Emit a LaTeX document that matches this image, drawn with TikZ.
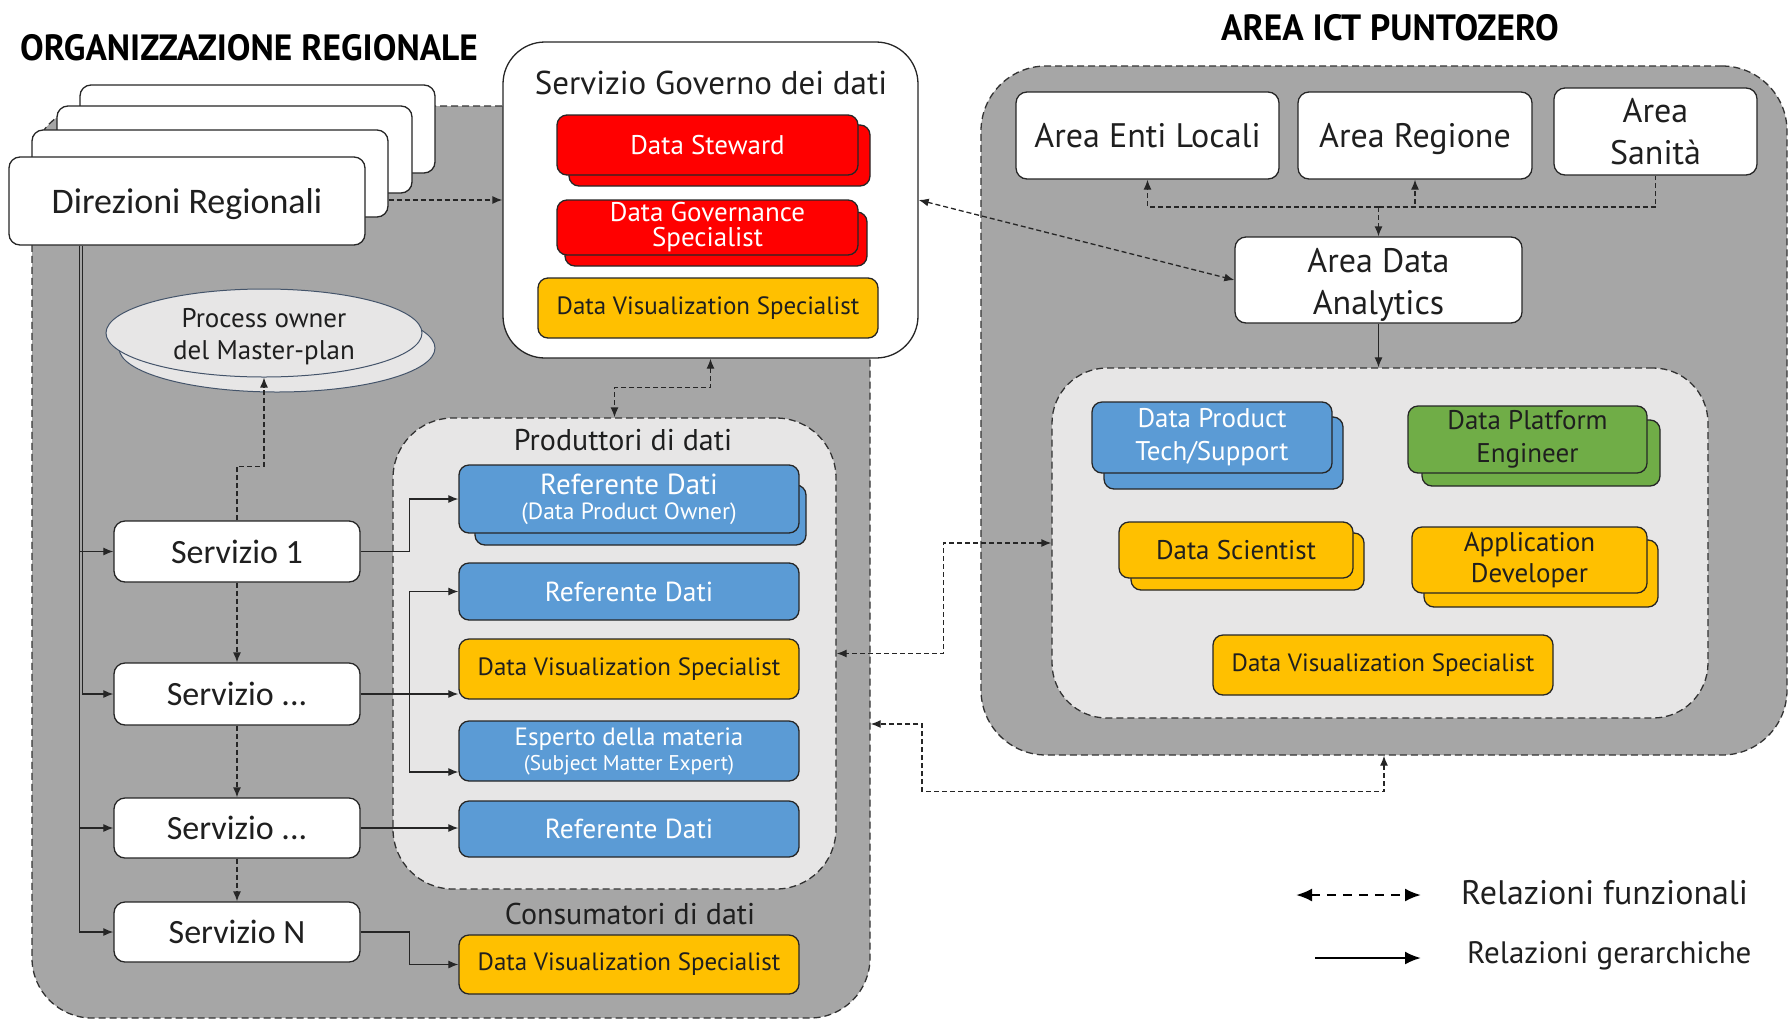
\documentclass[tikz,border=0pt]{standalone}
\usepackage{fontspec}
\setmainfont{PT Sans}
\newfontfamily\calfnt{Carlito}
\newfontfamily\ttlfnt[FakeStretch=0.97]{PT Sans}
\usetikzlibrary{arrows.meta,calc,shapes.geometric}
\definecolor{rgray}{HTML}{A6A6A6}
\definecolor{rlight}{HTML}{E7E6E6}
\definecolor{cblue}{HTML}{5B9BD5}
\definecolor{cgreen}{HTML}{70AD47}
\definecolor{cyellow}{HTML}{FFC000}
\definecolor{cred}{HTML}{FF0000}
\definecolor{ink}{HTML}{1F1F1F}
\definecolor{ellb}{HTML}{44546A}
\newcommand\fsz[2]{\fontsize{#1}{#2}\selectfont}
\tikzset{
  wbox/.style={draw=black!85, line width=1.3pt, rounded corners=11pt, fill=white, inner sep=0pt, text=ink},
  cbox/.style={draw=black!85, line width=1.3pt, rounded corners=10pt, inner sep=0pt},
  region/.style={draw=black!80, line width=1.3pt, dash pattern=on 7pt off 4pt, inner sep=0pt},
  ell/.style={ellipse, draw=ellb, line width=1pt, fill=rlight, inner sep=0pt, text=ink},
  ttl/.style={font=\ttlfnt\bfseries\fsz{36.5}{40}, text=black},
  lbl/.style={text=ink, inner sep=0pt},
  sl/.style={text height=24pt, text depth=0pt},
  hier/.style={draw=black!85, line width=1.2pt, -{Latex[length=10pt,width=8pt]}},
  func/.style={draw=black!85, line width=1.3pt, dash pattern=on 5pt off 3pt, -{Latex[length=10pt,width=8pt]}},
  funcb/.style={draw=black!85, line width=1.3pt, dash pattern=on 5pt off 3pt, {Latex[length=10pt,width=8pt]}-{Latex[length=10pt,width=8pt]}},
  funcn/.style={draw=black!85, line width=1.3pt, dash pattern=on 5pt off 3pt},
  legf/.style={draw=black, line width=2.4pt, dash pattern=on 9pt off 7pt, {Latex[length=16pt,width=13pt]}-{Latex[length=16pt,width=13pt]}},
  legh/.style={draw=black, line width=2.4pt, -{Latex[length=16pt,width=13pt]}},
}
\begin{document}
\begin{tikzpicture}[x=1pt,y=-1pt]
\useasboundingbox (0,0) rectangle (1790,1021);

% regions
\node[region, fill=rgray, minimum width=838pt, minimum height=912pt, rounded corners=60pt] (lg) at (451,562) {};
\node[region, fill=rgray, minimum width=806pt, minimum height=689pt, rounded corners=65pt] (rg) at (1384,410.5) {};

% titles
\node[ttl] (t1) at (249,48) {ORGANIZZAZIONE REGIONALE};
\node[ttl] (t2) at (1390,28) {AREA ICT PUNTOZERO};

% Direzioni stack
\node[wbox, minimum width=355pt, minimum height=88pt] (dr4) at (257.5,129) {};
\node[wbox, minimum width=355pt, minimum height=87pt] (dr3) at (234.5,149.5) {};
\node[wbox, minimum width=356pt, minimum height=87pt] (dr2) at (210,173.5) {};
\node[wbox, sl, minimum width=356pt, minimum height=88pt, font=\calfnt\fsz{36}{40}] (dr) at (187,201) {Direzioni Regionali};

% Servizio Governo
\node[wbox, rounded corners=42pt, minimum width=415pt, minimum height=316pt] (gov) at (710.5,200) {};
\node[lbl, font=\fsz{33}{36}] (govt) at (711,83) {Servizio Governo dei dati};
\node[cbox, fill=cred, minimum width=301pt, minimum height=61pt] (dsb) at (719.5,155.5) {};
\node[cbox, fill=cred, minimum width=301pt, minimum height=60pt, text=white, font=\fsz{27}{28}] (dst) at (707.5,145) {Data Steward};
\node[cbox, fill=cred, minimum width=302pt, minimum height=54pt] (dgsb) at (716,239) {};
\node[cbox, fill=cred, minimum width=301pt, minimum height=55pt, text=white, font=\fsz{27}{25}, align=center] (dgs) at (707.5,227.5) {Data Governance\\Specialist};
\node[cbox, fill=cyellow, minimum width=340pt, minimum height=60pt, text=ink, font=\fsz{25}{28}] (dvsg) at (708,308) {Data Visualization Specialist};

% Process owner
\node[ell, minimum width=316pt, minimum height=88pt] (pob) at (277,348) {};
\node[ell, minimum width=316pt, minimum height=88pt] (po) at (264,333) {};
\node[lbl, font=\fsz{27}{32}, align=center] (pot) at (264,336.5) {Process owner\\del Master-plan};

% Servizi
\node[wbox, minimum width=246pt, minimum height=61pt, font=\calfnt\fsz{34}{36}] (s1) at (237,551.5) {Servizio 1};
\node[wbox, minimum width=246pt, minimum height=62pt, font=\calfnt\fsz{34}{36}] (s2) at (237,694) {Servizio ...};
\node[wbox, minimum width=246pt, minimum height=60pt, font=\calfnt\fsz{34}{36}] (s3) at (237,828) {Servizio ...};
\node[wbox, minimum width=246pt, minimum height=60pt, font=\calfnt\fsz{34}{36}] (sN) at (237,932) {Servizio N};

% Produttori
\node[region, fill=rlight, minimum width=443pt, minimum height=471pt, rounded corners=60pt] (prod) at (614.5,653.5) {};
\node[lbl, font=\fsz{30}{32}] (prodt) at (623,440) {Produttori di dati};
\node[cbox, fill=cblue, minimum width=331pt, minimum height=60pt] (rd1b) at (640.5,515) {};
\node[cbox, fill=cblue, minimum width=340pt, minimum height=68pt, text=white, align=center, font=\fsz{23.5}{25}] (rd1) at (629,499) {{\fsz{29}{25}Referente Dati}\\(Data Product Owner)};
\node[cbox, fill=cblue, minimum width=340pt, minimum height=57pt, text=white, font=\fsz{27.5}{28}] (rd2) at (629,591.5) {Referente Dati};
\node[cbox, fill=cyellow, minimum width=340pt, minimum height=60pt, text=ink, font=\fsz{25}{28}] (dvsp) at (629,669) {Data Visualization Specialist};
\node[cbox, fill=cblue, minimum width=340pt, minimum height=60pt, text=white, align=center, font=\fsz{21.3}{25}] (esp) at (629,751) {{\fsz{25}{25}Esperto della materia}\\(Subject Matter Expert)};
\node[cbox, fill=cblue, minimum width=340pt, minimum height=56pt, text=white, font=\fsz{27.5}{28}] (rd3) at (629,829) {Referente Dati};
\node[lbl, font=\fsz{30}{32}] (const) at (630,914) {Consumatori di dati};
\node[cbox, fill=cyellow, minimum width=340pt, minimum height=59pt, text=ink, font=\fsz{25}{28}] (dvsc) at (629,964.5) {Data Visualization Specialist};

% Area ICT
\node[wbox, minimum width=263pt, minimum height=87pt, font=\fsz{34}{42}] (ael) at (1147.5,135.5) {Area Enti Locali};
\node[wbox, sl, minimum width=234pt, minimum height=87pt, font=\fsz{34}{42}] (are) at (1415,135.5) {Area Regione};
\node[wbox, minimum width=203pt, minimum height=87pt, font=\fsz{34}{42}, align=center] (asa) at (1655.5,131.5) {Area\\Sanità};
\node[wbox, minimum width=287pt, minimum height=86pt] (ada) at (1378.5,280) {};
\node[lbl, font=\fsz{34}{42}, align=center] (adat) at (1378.5,284.5) {Area Data\\Analytics};

\node[region, fill=rlight, minimum width=656pt, minimum height=350pt, rounded corners=55pt] (inr) at (1380,543) {};
\node[cbox, fill=cblue, minimum width=239pt, minimum height=72pt] (dptb) at (1223.5,453) {};
\node[cbox, fill=cblue, minimum width=240pt, minimum height=71pt, text=white, font=\fsz{27}{33}, align=center] (dpt) at (1212,437.5) {Data Product\\Tech/Support};
\node[cbox, fill=cgreen, minimum width=238pt, minimum height=66pt] (dpeb) at (1541,453) {};
\node[cbox, fill=cgreen, minimum width=239pt, minimum height=67pt, text=ink, font=\fsz{27}{33}, align=center] (dpe) at (1527.5,439.5) {Data Platform\\Engineer};
\node[cbox, fill=cyellow, minimum width=233pt, minimum height=57pt] (dsc2) at (1247.5,561.5) {};
\node[cbox, fill=cyellow, minimum width=234pt, minimum height=56pt, text=ink, font=\fsz{27}{30}] (dsc) at (1236,550) {Data Scientist};
\node[cbox, fill=cyellow, minimum width=234pt, minimum height=67pt] (adb) at (1541,573.5) {};
\node[cbox, fill=cyellow, minimum width=235pt, minimum height=66pt, text=ink, font=\fsz{27}{31}, align=center] (ad) at (1529.5,560) {Application\\Developer};
\node[cbox, fill=cyellow, minimum width=340pt, minimum height=60pt, text=ink, font=\fsz{25}{28}] (dvsr) at (1383,665) {Data Visualization Specialist};

% hierarchical connectors
\draw[hier] ($(dr.south west)+(71,0)$) |- (s1.west);
\draw[hier] ($(dr.south west)+(74.5,0)$) |- (s2.west);
\draw[hier] ($(dr.south west)+(71,0)$) |- (s3.west);
\draw[hier] ($(dr.south west)+(71,0)$) |- (sN.west);
\draw[hier] (s1.east) -- ++(49,0) |- (rd1.west);
\draw[hier] (s2.east) -- (s2.east -| dvsp.west);
\draw[hier] ($(s2.east)+(49,0)$) |- (rd2.west);
\draw[hier] ($(s2.east)+(49,0)$) |- ($(esp.west)+(0,21)$);
\draw[hier] (s3.east) -- (s3.east -| rd3.west);
\draw[hier] (sN.east) -- ++(49,0) |- (dvsc.west);
\draw[hier] (ada.south) -- (ada.south |- inr.north);

% functional connectors
\draw[func] (s1.south) -- (s2.north);
\draw[func] (s2.south) -- (s3.north);
\draw[func] (s3.south) -- (sN.north);
\draw[func] (s1.north) -- ++(0,-54) -| (po.south);
\draw[func] (gov.west -| dr2.east) -- (gov.west);
\draw[funcb] (gov.east) -- (ada.west);
\draw[funcb] (gov.south) -- ++(0,29) -| (prod.north);
\coordinate (bus) at (1378.5,207);
\draw[func] (bus) -| (ael.south);
\draw[func] (bus) -| (are.south);
\draw[funcn] (bus) -| (asa.south);
\draw[func] (bus) -- (ada.north);
\draw[funcb] (inr.west) -- ++(-108,0) |- (prod.east);
\coordinate (c1) at (922,724);
\draw[funcb] (rg.south) -- ++(0,36) -| (c1) -- (c1 -| lg.east);

% legend
\coordinate (l1a) at (1296,895);
\coordinate (l1b) at (1421,895);
\coordinate (l2a) at (1315,958);
\coordinate (l2b) at (1421,958);
\draw[legf] (l1a) -- (l1b);
\draw[legh] (l2a) -- (l2b);
\node[lbl, anchor=west, font=\fsz{34}{36}] (lt1) at (1461,893) {Relazioni funzionali};
\node[lbl, anchor=west, font=\fsz{31}{36}] (lt2) at (1467,956) {Relazioni gerarchiche};
\end{tikzpicture}
\end{document}
